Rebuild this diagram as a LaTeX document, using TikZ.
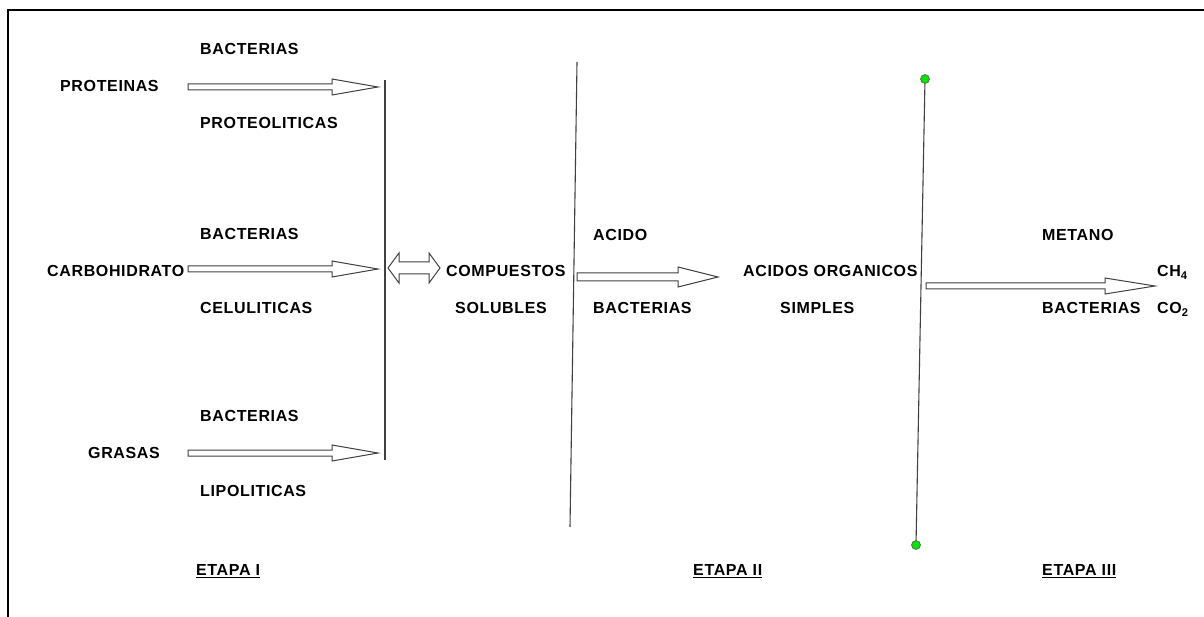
\documentclass[tikz,border=0pt]{standalone}
\usepackage{fontspec}
\setmainfont{Liberation Sans}
\usetikzlibrary{calc}
\newcommand{\blockarrow}[5]{% from, to, shaft half, head half, head length
  \draw[blk] let \p1=(#1), \p2=(#2) in
    (\x1,{\y1+#3pt}) -- ({\x2-#5pt},{\y1+#3pt}) -- ({\x2-#5pt},{\y1+#4pt}) -- (\x2,\y1)
    -- ({\x2-#5pt},{\y1-#4pt}) -- ({\x2-#5pt},{\y1-#3pt}) -- (\x1,{\y1-#3pt}) -- cycle;}
\newcommand{\dblarrow}[5]{% from, to, shaft half, head half, head length
  \draw[blk] let \p1=(#1), \p2=(#2) in
    (\x1,\y1) -- ({\x1+#5pt},{\y1+#4pt}) -- ({\x1+#5pt},{\y1+#3pt}) -- ({\x2-#5pt},{\y1+#3pt})
    -- ({\x2-#5pt},{\y1+#4pt}) -- (\x2,\y1) -- ({\x2-#5pt},{\y1-#4pt}) -- ({\x2-#5pt},{\y1-#3pt})
    -- ({\x1+#5pt},{\y1-#3pt}) -- ({\x1+#5pt},{\y1-#4pt}) -- cycle;}
\begin{document}
\begin{tikzpicture}[x=1pt,y=-1pt,
  lbl/.style={font=\bfseries\fontsize{16}{19}\selectfont\addfontfeatures{LetterSpace=4}, inner sep=0pt, anchor=base west},
  vline/.style={draw=black!75, line width=1.1pt},
  blk/.style={draw=black!75, fill=white, line width=1pt, line join=miter},
  gdot/.style={fill=green!90!black, draw=black!60, line width=0.7pt}]
\useasboundingbox (0,0) rectangle (1204,617);
\draw[line width=2pt] (8,617) -- (8,10) -- (1204,10);

% labels (baseline = centre + 5.5)
\node[lbl] (bac1)   at (200,54.5)  {BACTERIAS};
\node[lbl] (prot)   at (60,91.5)   {PROTEINAS};
\node[lbl] (proteo) at (200,128.5) {PROTEOLITICAS};
\node[lbl] (bac2)   at (200,239.5) {BACTERIAS};
\node[lbl] (carb)   at (47,276.5)  {CARBOHIDRATO};
\node[lbl] (celu)   at (200,313.5) {CELULITICAS};
\node[lbl] (bac3)   at (200,421.5) {BACTERIAS};
\node[lbl] (gras)   at (88,458.5)  {GRASAS};
\node[lbl] (lipo)   at (200,496.5) {LIPOLITICAS};
\node[lbl] (comp)   at (446,276.5) {COMPUESTOS};
\node[lbl] (solu)   at (455,313.5) {SOLUBLES};
\node[lbl] (acido)  at (593,240.5) {ACIDO};
\node[lbl] (bac4)   at (593,313.5) {BACTERIAS};
\node[lbl] (acorg)  at (743,276.5) {ACIDOS ORGANICOS};
\node[lbl] (simp)   at (780,313.5) {SIMPLES};
\node[lbl] (meta)   at (1042,240.5) {METANO};
\node[lbl] (bac5)   at (1042,313.5) {BACTERIAS};
\node[lbl] (ch4)    at (1157,276.5) {CH\textsubscript{4}};
\node[lbl] (co2)    at (1157,313.5) {CO\textsubscript{2}};
\node[lbl] (et1)    at (196,575.5) {\underline{ETAPA I}};
\node[lbl] (et2)    at (693,575.5) {\underline{ETAPA II}};
\node[lbl] (et3)    at (1042,575.5) {\underline{ETAPA III}};

% vertical lines
\coordinate (l1t) at (385,80);  \coordinate (l1b) at (385,460);
\coordinate (l2t) at (577,62);  \coordinate (l2b) at (570,527);
\coordinate (l3t) at (925,79);  \coordinate (l3b) at (916,545);
\draw[vline] (l1t) -- (l1b);
\draw[vline] (l2t) -- (l2b);
\draw[vline] (l3t) -- (l3b);
\filldraw[gdot] (l3t) circle (4.5pt);
\filldraw[gdot] (l3b) circle (4.5pt);

% arrows
\coordinate (a1s) at (188,87);  \coordinate (a1e) at (378,87);
\coordinate (a2s) at (188,269); \coordinate (a2e) at (378,269);
\coordinate (a3s) at (188,453); \coordinate (a3e) at (378,453);
\coordinate (dbs) at (388,268); \coordinate (dbe) at (440,268);
\coordinate (a4s) at (577,277); \coordinate (a4e) at (718,277);
\coordinate (a5s) at (926,286); \coordinate (a5e) at (1155,286);
\blockarrow{a1s}{a1e}{3}{8}{46}
\blockarrow{a2s}{a2e}{3}{8}{46}
\blockarrow{a3s}{a3e}{3}{8}{46}
\dblarrow{dbs}{dbe}{6}{15}{11}
\blockarrow{a4s}{a4e}{4}{10}{40}
\blockarrow{a5s}{a5e}{3}{8}{50}
\end{tikzpicture}
\end{document}
